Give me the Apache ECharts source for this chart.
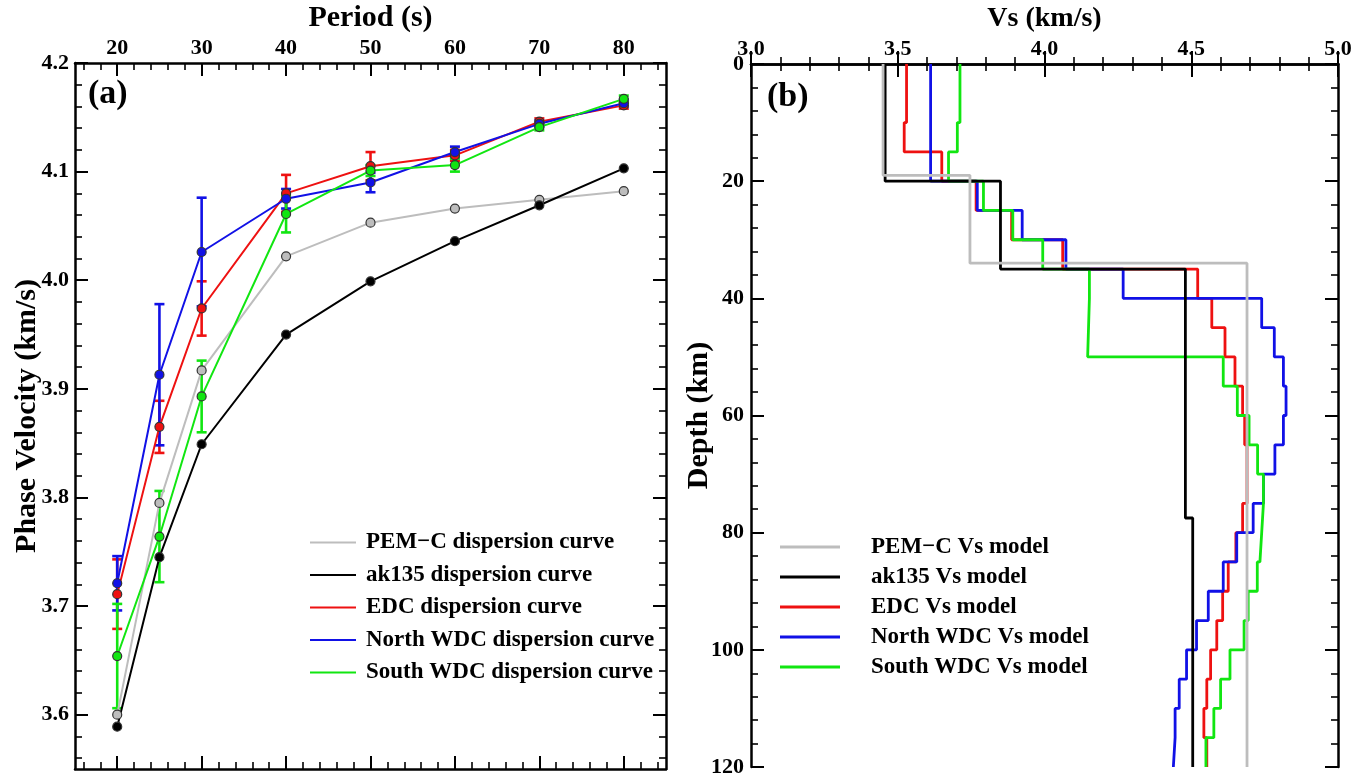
<!DOCTYPE html>
<html><head><meta charset="utf-8">
<script src="https://cdn.jsdelivr.net/npm/echarts@6/dist/echarts.min.js"></script>
<style>html,body{margin:0;padding:0;background:#fff}#c{width:1364px;height:781px}</style>
</head><body><div id="c"></div>
<script>
// ---------- Panel (a): dispersion curves ----------
const periods = [20, 25, 30, 40, 50, 60, 70, 80];
const pemcPhase = [3.600, 3.795, 3.917, 4.022, 4.053, 4.066, 4.074, 4.082];
const ak135Phase = [3.589, 3.745, 3.849, 3.950, 3.999, 4.036, 4.069, 4.103];
const edcPhase = [3.711, 3.865, 3.974, 4.080, 4.105, 4.115, 4.146, 4.161];
const edcErr = [0.032, 0.024, 0.025, 0.017, 0.013, 0.005, 0.003, 0.003];
const nwdcPhase = [3.721, 3.913, 4.026, 4.075, 4.090, 4.118, 4.144, 4.163];
const nwdcErr = [0.025, 0.065, 0.050, 0.009, 0.009, 0.005, 0.003, 0.003];
const swdcPhase = [3.654, 3.764, 3.893, 4.061, 4.101, 4.106, 4.141, 4.167];
const swdcErr = [0.048, 0.042, 0.033, 0.017, 0.005, 0.006, 0.003, 0.003];
const periodTicks = [20, 30, 40, 50, 60, 70, 80];
const velTicks = [3.6, 3.7, 3.8, 3.9, 4.0, 4.1, 4.2];

// ---------- Panel (b): Vs models (layer boundaries in km, Vs per layer) ----------
const pemcBounds = [0, 19, 34, 120];
const pemcVs = [3.45, 3.746, 4.69];
const ak135Bounds = [0, 20, 35, 77.5, 120];
const ak135Vs = [3.457, 3.85, 4.48, 4.505];
const edcBounds = [0, 10, 15, 20, 25, 30, 35, 40, 45, 50, 55, 60, 65, 70, 75, 80, 85, 90, 95, 100, 105, 110, 115, 120];
const edcVs = [3.53, 3.522, 3.65, 3.767, 3.888, 4.062, 4.522, 4.57, 4.615, 4.649, 4.675, 4.682, 4.69, 4.69, 4.675, 4.652, 4.626, 4.607, 4.587, 4.566, 4.553, 4.543, 4.553];
const nwdcBounds = [0, 20, 25, 30, 35, 40, 45, 50, 55, 60, 65, 70, 75, 80, 85, 90, 95, 100, 105, 110, 115, 120];
const nwdcVs = [3.612, 3.771, 3.924, 4.073, 4.268, 4.74, 4.783, 4.814, 4.823, 4.814, 4.785, 4.746, 4.711, 4.655, 4.609, 4.558, 4.518, 4.484, 4.459, 4.445, 4.439];
const swdcBounds = [0, 10, 15, 20, 25, 30, 35, 40, 50, 55, 60, 65, 70, 75, 80, 85, 90, 95, 100, 105, 110, 115, 120];
const swdcVs = [3.712, 3.703, 3.673, 3.792, 3.892, 3.994, 4.153, 4.147, 4.609, 4.657, 4.697, 4.726, 4.746, 4.74, 4.734, 4.725, 4.694, 4.68, 4.632, 4.6, 4.577, 4.55];

const namesA = ['PEM\u2212C dispersion curve', 'ak135 dispersion curve', 'EDC dispersion curve', 'North WDC dispersion curve', 'South WDC dispersion curve'];
const namesB = ['PEM\u2212C Vs model', 'ak135 Vs model', 'EDC Vs model', 'North WDC Vs model', 'South WDC Vs model'];
const colors = ['#bdbdbd', '#000000', '#ee1111', '#1111e6', '#11e611'];

const FONT = 'Liberation Serif';
const minorX = []; for (let v = 16; v < 85; v += 2) if (v % 10 !== 0) minorX.push(v);
const minorY = []; for (let k = 178; k <= 209; k++) if (k % 5 !== 0) minorY.push(+(k * 0.02).toFixed(2));

function stepPoints(bounds, vs) {
  const pts = [];
  for (let i = 0; i < vs.length; i++) { pts.push([vs[i], bounds[i]]); pts.push([vs[i], bounds[i + 1]]); }
  return pts;
}
const axisLine = { show: true, lineStyle: { color: '#000', width: 2.5 } };
const lblStyle = { color: '#000', fontFamily: FONT, fontWeight: 'bold', fontSize: 22 };
function nameStyle(size) { return { color: '#000', fontFamily: FONT, fontWeight: 'bold', fontSize: size }; }

function aAxis(pos, range, majors, minors, withLabel, extra, isMinor) {
  return Object.assign({
    type: 'value', gridIndex: 0, position: pos, min: range[0], max: range[1],
    axisLine: isMinor ? { show: false } : axisLine,
    splitLine: { show: false },
    axisTick: { show: true, inside: true, length: isMinor ? 7 : 13, customValues: isMinor ? minors : majors,
      lineStyle: { color: '#000', width: isMinor ? 1.6 : 2 } },
    axisLabel: withLabel ? Object.assign({ show: true, customValues: majors, margin: 5 }, lblStyle) : { show: false }
  }, extra || {});
}

const xAxes = [
  aAxis('top', [15, 85], periodTicks, minorX, true, {
    name: 'Period (s)', nameLocation: 'middle', nameGap: 30, nameTextStyle: nameStyle(30), nameMoveOverlap: false,
    axisLabel: Object.assign({ show: true, customValues: periodTicks, margin: 4, formatter: v => String(v) }, lblStyle)
  }),
  aAxis('top', [15, 85], periodTicks, minorX, false, null, true),
  aAxis('bottom', [15, 85], periodTicks, minorX, false),
  aAxis('bottom', [15, 85], periodTicks, minorX, false, null, true),
  {
    type: 'value', gridIndex: 1, position: 'top', min: 3, max: 5, interval: 0.5,
    name: 'Vs (km/s)', nameLocation: 'middle', nameGap: 31, nameTextStyle: nameStyle(28), nameMoveOverlap: false,
    axisLine: axisLine, splitLine: { show: false },
    axisTick: { inside: true, length: 13, lineStyle: { color: '#000', width: 2 } },
    minorTick: { show: true, splitNumber: 5, length: 7, lineStyle: { color: '#000', width: 1.6 } },
    axisLabel: Object.assign({ margin: 4, formatter: v => v.toFixed(1) }, lblStyle)
  },
  {
    type: 'value', gridIndex: 1, position: 'bottom', min: 3, max: 5, interval: 0.5,
    axisLine: axisLine, splitLine: { show: false },
    axisTick: { inside: true, length: 13, lineStyle: { color: '#000', width: 2 } },
    minorTick: { show: true, splitNumber: 5, length: 7, lineStyle: { color: '#000', width: 1.6 } },
    axisLabel: { show: false }
  }
];
const yAxes = [
  aAxis('left', [3.55, 4.2], velTicks, minorY, true, {
    name: 'Phase Velocity (km/s)', nameLocation: 'middle', nameGap: 33, nameRotate: 90, nameTextStyle: nameStyle(30), nameMoveOverlap: false,
    axisLabel: Object.assign({ show: true, customValues: velTicks, margin: 6, formatter: v => v.toFixed(1) }, lblStyle)
  }),
  aAxis('left', [3.55, 4.2], velTicks, minorY, false, null, true),
  aAxis('right', [3.55, 4.2], velTicks, minorY, false),
  aAxis('right', [3.55, 4.2], velTicks, minorY, false, null, true),
  {
    type: 'value', gridIndex: 1, position: 'left', min: 0, max: 120, interval: 20, inverse: true,
    name: 'Depth (km)', nameLocation: 'middle', nameGap: 37, nameRotate: 90, nameTextStyle: nameStyle(30), nameMoveOverlap: false,
    axisLine: axisLine, splitLine: { show: false },
    axisTick: { inside: true, length: 13, lineStyle: { color: '#000', width: 2 } },
    minorTick: { show: true, splitNumber: 5, length: 7, lineStyle: { color: '#000', width: 1.6 } },
    axisLabel: Object.assign({ margin: 7 }, lblStyle)
  },
  {
    type: 'value', gridIndex: 1, position: 'right', min: 0, max: 120, interval: 20, inverse: true,
    axisLine: axisLine, splitLine: { show: false },
    axisTick: { inside: true, length: 13, lineStyle: { color: '#000', width: 2 } },
    minorTick: { show: true, splitNumber: 5, length: 7, lineStyle: { color: '#000', width: 1.6 } },
    axisLabel: { show: false }
  }
];

function lineA(name, color, vals) {
  return {
    type: 'line', name: name, xAxisIndex: 0, yAxisIndex: 0,
    data: periods.map((p, i) => [p, vals[i]]),
    symbol: 'circle', symbolSize: 9, showSymbol: true,
    lineStyle: { color: color, width: 2 },
    itemStyle: { color: color, borderColor: '#333', borderWidth: 1.2 },
    emphasis: { disabled: true }, animation: false
  };
}
function errA(color, vals, errs) {
  return {
    type: 'custom', xAxisIndex: 0, yAxisIndex: 0, animation: false,
    data: periods.map((p, i) => [p, vals[i] - errs[i], vals[i] + errs[i]]),
    renderItem: function (params, api) {
      const x = api.value(0);
      const lo = api.coord([x, api.value(1)]);
      const hi = api.coord([x, api.value(2)]);
      const hw = 5, st = { stroke: color, lineWidth: 2.6 };
      return { type: 'group', children: [
        { type: 'line', shape: { x1: lo[0], y1: lo[1], x2: hi[0], y2: hi[1] }, style: st },
        { type: 'line', shape: { x1: lo[0] - hw, y1: lo[1], x2: lo[0] + hw, y2: lo[1] }, style: st },
        { type: 'line', shape: { x1: hi[0] - hw, y1: hi[1], x2: hi[0] + hw, y2: hi[1] }, style: st }
      ] };
    }
  };
}
function lineB(name, color, bounds, vs) {
  return {
    type: 'line', name: name, xAxisIndex: 4, yAxisIndex: 4,
    data: stepPoints(bounds, vs), showSymbol: false, symbol: 'none',
    lineStyle: { color: color, width: 2.8 }, itemStyle: { color: color },
    emphasis: { disabled: true }, animation: false
  };
}

const series = [
  lineA(namesA[0], colors[0], pemcPhase),
  lineA(namesA[1], colors[1], ak135Phase),
  errA(colors[2], edcPhase, edcErr), lineA(namesA[2], colors[2], edcPhase),
  errA(colors[3], nwdcPhase, nwdcErr), lineA(namesA[3], colors[3], nwdcPhase),
  errA(colors[4], swdcPhase, swdcErr), lineA(namesA[4], colors[4], swdcPhase),
  lineB(namesB[2], colors[2], edcBounds, edcVs),
  lineB(namesB[3], colors[3], nwdcBounds, nwdcVs),
  lineB(namesB[4], colors[4], swdcBounds, swdcVs),
  lineB(namesB[1], colors[1], ak135Bounds, ak135Vs),
  lineB(namesB[0], colors[0], pemcBounds, pemcVs)
];

const legText = { color: '#000', fontFamily: FONT, fontWeight: 'bold', fontSize: 23, lineHeight: 24 };
const option = {
  backgroundColor: '#fff',
  animation: false,
  grid: [
    { left: 75, top: 63, width: 591, height: 706, outerBoundsMode: 'none', containLabel: false },
    { left: 751, top: 64, width: 587, height: 703, outerBoundsMode: 'none', containLabel: false }
  ],
  title: [
    { text: '(a)', left: 88, top: 77, padding: 0, textStyle: { fontFamily: FONT, fontWeight: 'bold', fontSize: 34, color: '#000' } },
    { text: '(b)', left: 767, top: 80, padding: 0, textStyle: { fontFamily: FONT, fontWeight: 'bold', fontSize: 34, color: '#000' } }
  ],
  legend: [
    { data: namesA, orient: 'vertical', left: 310, top: 530.5, padding: 0, itemWidth: 46, itemHeight: 2, itemGap: 8.5,
      icon: 'rect', itemStyle: { borderWidth: 0 }, selectedMode: false,
      textStyle: Object.assign({ padding: [0, 0, 0, 5] }, legText) },
    { data: namesB, orient: 'vertical', left: 780, top: 535, padding: 0, itemWidth: 60, itemHeight: 3, itemGap: 6,
      icon: 'rect', itemStyle: { borderWidth: 0 }, selectedMode: false,
      textStyle: Object.assign({ padding: [0, 0, 0, 26] }, legText) }
  ],
  xAxis: xAxes,
  yAxis: yAxes,
  series: series
};
const chart = echarts.init(document.getElementById('c'), null, { renderer: 'canvas' });
chart.setOption(option);
</script>
</body></html>
